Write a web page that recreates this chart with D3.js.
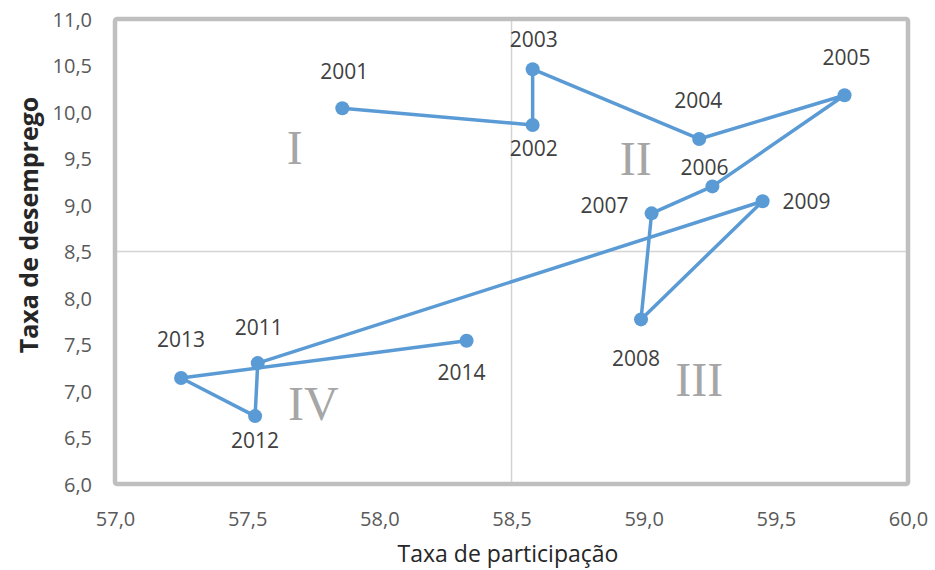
<!DOCTYPE html>
<html>
<head>
<meta charset="utf-8">
<script src="https://cdn.jsdelivr.net/npm/d3@7"></script>
<style>
  html, body { margin: 0; padding: 0; background: #fff; }
  svg { display: block; }
</style>
</head>
<body>
<svg id="chart" width="935" height="570"></svg>
<script>
// Participation rate vs. unemployment rate, year by year
const years = ["2001", "2002", "2003", "2004", "2005", "2006", "2007", "2008", "2009", "2011", "2012", "2013", "2014"];
const participacao = [57.86, 58.58, 58.58, 59.21, 59.76, 59.26, 59.03, 58.99, 59.45, 57.54, 57.53, 57.25, 58.33];
const desemprego = [10.04, 9.86, 10.46, 9.71, 10.18, 9.20, 8.91, 7.77, 9.04, 7.30, 6.73, 7.14, 7.54];

const xTicks = [57.0, 57.5, 58.0, 58.5, 59.0, 59.5, 60.0];
const yTicks = [6.0, 6.5, 7.0, 7.5, 8.0, 8.5, 9.0, 9.5, 10.0, 10.5, 11.0];

// Reference lines splitting the plot into quadrants
const xCross = 58.5;
const yCross = 8.5;
const quadrantNames = ["I", "II", "III", "IV"];
const quadrantX = [57.68, 58.97, 59.21, 57.75];
const quadrantY = [9.61, 9.49, 7.12, 6.86];

// Where each year label sits relative to its marker (pixels)
const labelOffsets = [[2, -37], [1, 23], [1, -30], [-1, -38], [2, -38], [-8, -19], [-47, -8],
                      [-5, 39], [44, 0], [1, -36], [0, 24], [0, -38], [-5, 32]];

const fmt = v => v.toFixed(1).replace(".", ",");
const font = "'Open Sans', 'Liberation Sans', sans-serif";

const svg = d3.select("#chart");
const plotLeft = 115, plotRight = 908, plotTop = 19, plotBottom = 484;

const x = d3.scaleLinear().domain([57, 60]).range([plotLeft, plotRight]);
const y = d3.scaleLinear().domain([6, 11]).range([plotBottom, plotTop]);

// Quadrant divider lines
svg.append("line")
  .attr("x1", x(xCross)).attr("x2", x(xCross))
  .attr("y1", plotTop).attr("y2", plotBottom)
  .attr("stroke", "#d4d4d4").attr("stroke-width", 1.5);
svg.append("line")
  .attr("x1", plotLeft).attr("x2", plotRight)
  .attr("y1", y(yCross)).attr("y2", y(yCross))
  .attr("stroke", "#d4d4d4").attr("stroke-width", 1.5);

// Plot frame
svg.append("rect")
  .attr("x", plotLeft).attr("y", plotTop)
  .attr("width", plotRight - plotLeft).attr("height", plotBottom - plotTop)
  .attr("rx", 2)
  .attr("fill", "none").attr("stroke", "#bfbfbf").attr("stroke-width", 4.5);

// Axes (labels only, no tick marks or domain)
const xAxis = d3.axisBottom(x).tickValues(xTicks).tickFormat(fmt).tickSize(0).tickPadding(0);
const gx = svg.append("g").attr("transform", `translate(0, ${plotBottom + 42})`).call(xAxis);
gx.select(".domain").remove();
gx.selectAll("text")
  .attr("y", 0).attr("dy", 0)
  .attr("fill", "#595959")
  .style("font-family", font).style("font-size", "20px");

const yAxis = d3.axisLeft(y).tickValues(yTicks).tickFormat(fmt).tickSize(0).tickPadding(0);
const gy = svg.append("g").attr("transform", `translate(${plotLeft - 23}, 0)`).call(yAxis);
gy.select(".domain").remove();
gy.selectAll("text")
  .attr("x", 0).attr("dy", 7)
  .attr("fill", "#595959")
  .style("font-family", font).style("font-size", "20px");

// Quadrant numerals
svg.selectAll("text.quad")
  .data(quadrantNames)
  .join("text")
  .attr("class", "quad")
  .attr("x", (d, i) => x(quadrantX[i]))
  .attr("y", (d, i) => y(quadrantY[i]) + 16)
  .attr("text-anchor", "middle")
  .attr("fill", "#a6a6a6")
  .style("font-family", "'Liberation Serif', 'DejaVu Serif', serif")
  .style("font-size", "48px")
  .text(d => d);

// Connected path through the years
const points = years.map((yr, i) => ({ year: yr, px: participacao[i], dz: desemprego[i], off: labelOffsets[i] }));
const line = d3.line().x(d => x(d.px)).y(d => y(d.dz));
svg.append("path")
  .datum(points)
  .attr("d", line)
  .attr("fill", "none")
  .attr("stroke", "#5b9bd5")
  .attr("stroke-width", 3.5)
  .attr("stroke-linejoin", "round");

svg.selectAll("circle.pt")
  .data(points)
  .join("circle")
  .attr("class", "pt")
  .attr("cx", d => x(d.px))
  .attr("cy", d => y(d.dz))
  .attr("r", 7)
  .attr("fill", "#5b9bd5");

// Year labels
svg.selectAll("text.yr")
  .data(points)
  .join("text")
  .attr("class", "yr")
  .attr("x", d => x(d.px) + d.off[0])
  .attr("y", d => y(d.dz) + d.off[1] + 7.5)
  .attr("text-anchor", "middle")
  .attr("fill", "#404040")
  .style("font-family", font)
  .style("font-size", "21px")
  .text(d => d.year);

// Axis titles
svg.append("text")
  .attr("x", 508).attr("y", 562)
  .attr("text-anchor", "middle")
  .attr("fill", "#262626")
  .style("font-family", font).style("font-size", "23px")
  .text("Taxa de participação");

svg.append("text")
  .attr("transform", "translate(38, 225) rotate(-90)")
  .attr("text-anchor", "middle")
  .attr("fill", "#262626")
  .style("font-family", font).style("font-size", "25px").style("font-weight", "bold")
  .text("Taxa de desemprego");
</script>
</body>
</html>
